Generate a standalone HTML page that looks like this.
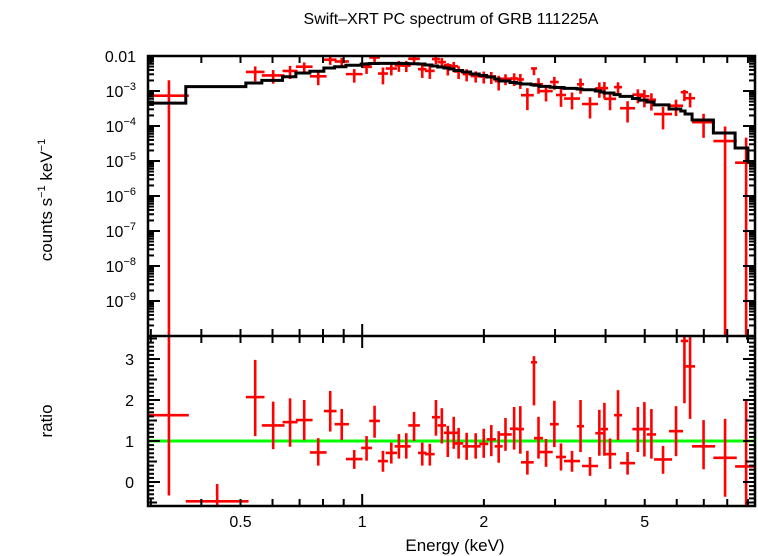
<!DOCTYPE html>
<html><head><meta charset="utf-8">
<style>
html,body{margin:0;padding:0;background:#fff;}
svg{display:block;font-family:"Liberation Sans",sans-serif;}
</style></head>
<body>
<svg id="chart" width="758" height="556" viewBox="0 0 758 556" xmlns="http://www.w3.org/2000/svg">
<rect x="0" y="0" width="758" height="556" fill="#fff"/>
<text x="451" y="24" font-size="16" text-anchor="middle">Swift–XRT PC spectrum of GRB 111225A</text>
<g id="plots"></g>
<text x="455" y="551" font-size="17" text-anchor="middle">Energy (keV)</text>
<text transform="translate(52,200) rotate(-90)" font-size="17" text-anchor="middle">counts s<tspan font-size="11" dy="-7">−1</tspan><tspan dy="7"> keV</tspan><tspan font-size="11" dy="-7">−1</tspan></text>
<text transform="translate(52,421) rotate(-90)" font-size="17" text-anchor="middle">ratio</text>
</svg>
<script>
// ---- data ----
const eLo=[0.297,0.3661,0.5155,0.5646,0.6353,0.6853,0.7423,0.8039,0.8545,0.9114,0.9943,1.041,1.094,1.143,1.203,1.254,1.300,1.374,1.430,1.488,1.537,1.593,1.642,1.687,1.772,1.855,1.948,2.032,2.127,2.183,2.321,2.411,2.471,2.616,2.661,2.743,2.915,3.016,3.157,3.400,3.498,3.773,3.892,3.966,4.198,4.345,4.660,4.850,5.058,5.272,5.742,6.139,6.292,6.547,7.392,8.366];
const eHi=[0.3724,0.5234,0.5733,0.6425,0.6920,0.7538,0.8165,0.8641,0.9270,1.002,1.057,1.106,1.158,1.219,1.263,1.318,1.389,1.443,1.511,1.557,1.612,1.665,1.728,1.778,1.855,1.964,2.050,2.142,2.226,2.344,2.433,2.513,2.657,2.706,2.801,2.960,3.063,3.193,3.458,3.538,3.832,3.950,4.057,4.246,4.393,4.732,4.961,5.134,5.333,5.842,6.220,6.400,6.660,7.464,8.447,9.485];
const ratio=[1.63,-0.47,2.07,1.38,1.46,1.51,0.72,1.73,1.41,0.56,0.83,1.49,0.51,0.71,0.87,0.87,1.38,0.71,0.68,1.58,1.38,1.2,1.2,0.94,0.87,0.87,0.93,1.04,0.87,1.16,1.3,1.29,0.48,2.92,1.07,0.73,1.41,0.61,0.51,1.36,0.39,1.19,1.29,0.68,1.63,0.46,1.29,1.29,1.16,0.55,1.24,3.44,2.82,0.87,0.59,0.38];
const ratioHi=[4.5,-0.05,2.98,1.96,2.04,2.0,1.07,2.22,1.78,0.78,1.12,1.86,0.76,0.96,1.17,1.19,1.71,0.96,0.93,2.0,1.8,1.37,1.59,1.32,1.2,1.19,1.3,1.39,1.24,1.56,1.83,1.85,0.76,3.07,1.59,1.05,1.98,0.94,0.76,2.0,0.61,1.76,1.93,1.06,2.24,0.73,1.83,1.95,1.78,0.88,1.85,4.0,4.0,1.51,1.54,1.98];
const ratioLo=[-0.33,-0.6,1.12,0.8,0.86,1.02,0.4,1.23,1.02,0.32,0.52,1.08,0.25,0.45,0.57,0.57,1.0,0.4,0.4,1.13,0.94,0.61,0.81,0.57,0.54,0.57,0.59,0.63,0.47,0.76,0.79,0.69,0.18,1.87,0.57,0.37,0.85,0.28,0.25,0.73,0.15,0.64,0.64,0.32,1.02,0.18,0.73,0.62,0.57,0.2,0.63,1.92,1.54,0.31,-0.36,-0.6];
const model=[4.5e-4,1.33e-3,1.69e-3,2.02e-3,2.56e-3,3.27e-3,3.66e-3,4.54e-3,4.94e-3,5.42e-3,5.91e-3,6.1e-3,6.18e-3,6.18e-3,6.18e-3,6.1e-3,6.03e-3,5.91e-3,5.53e-3,5.18e-3,4.85e-3,4.54e-3,4.25e-3,3.85e-3,3.49e-3,3.06e-3,2.77e-3,2.51e-3,2.2e-3,1.93e-3,1.75e-3,1.66e-3,1.58e-3,1.51e-3,1.46e-3,1.36e-3,1.28e-3,1.26e-3,1.19e-3,1.14e-3,1.09e-3,1.0e-3,9.4e-4,8.8e-4,7.9e-4,7.0e-4,6.1e-4,5.5e-4,4.85e-4,4.0e-4,3.06e-4,2.68e-4,2.2e-4,1.48e-4,6.3e-5,2.35e-5];
const modelTail=[9.0,9.4,9.3e-6]; // extra model bin: eLo, eHi, value
const yTopTicks=["0.01","10|−3","10|−4","10|−5","10|−6","10|−7","10|−8","10|−9"];
const xTickVals=[0.5,1,2,5];
const ratioTicks=[0,1,2,3];

// ---- geometry ----
const X0=148,X1=755,TOP0=56,TOP1=336,BOT0=336,BOT1=506;
const E1=0.2952, E2=9.37;
function xs(e){return X0+(Math.log10(e)-Math.log10(E1))/(Math.log10(E2)-Math.log10(E1))*(X1-X0);}
function ysTop(v){return TOP0+(-2-Math.log10(v))*35;}
function ysBot(r){return 482-r*41;}
const NS="http://www.w3.org/2000/svg";
const g=document.getElementById('plots');
function el(tag,attrs,parent){const e=document.createElementNS(NS,tag);for(const k in attrs)e.setAttribute(k,attrs[k]);(parent||g).appendChild(e);return e;}
function clampT(y){return Math.max(TOP0,Math.min(TOP1,y));}
function clampB(y){return Math.max(BOT0,Math.min(BOT1,y));}
function clampX(x){return Math.max(X0,Math.min(X1,x));}

// clip paths
const defs=el('defs',{});
const cp1=el('clipPath',{id:'clipTop'},defs);el('rect',{x:X0,y:TOP0,width:X1-X0,height:TOP1-TOP0},cp1);
const cp2=el('clipPath',{id:'clipBot'},defs);el('rect',{x:X0,y:BOT0,width:X1-X0,height:BOT1-BOT0},cp2);

// ---- top panel: data ----
const gTopData=el('g',{'clip-path':'url(#clipTop)'});


for(let i=0;i<eLo.length;i++){
  const m=model[i],r=ratio[i];
  if(r<=0) continue;
  const cx=xs(Math.sqrt(eLo[i]*eHi[i])), y=ysTop(m*r);
  const yHi=ysTop(m*ratioHi[i]);
  const yLo=ratioLo[i]>0?ysTop(m*ratioLo[i]):TOP1+5;
  const grp=el('g',{},gTopData);
  
  
  el('line',{x1:xs(eLo[i]),x2:xs(eHi[i]),y1:y,y2:y,stroke:'#f00','stroke-width':2.6},grp);
  el('line',{x1:cx,x2:cx,y1:yHi,y2:yLo,stroke:'#f00','stroke-width':2.6},grp);
}
// model step
let d='';
for(let i=0;i<eLo.length;i++){
  const xa=clampX(xs(eLo[i])), xb=xs(eHi[i]), y=ysTop(model[i]);
  if(i==0) d+='M'+X0+' '+y; else d+='L'+xa+' '+y;
  const nx=i<eLo.length-1?xs(eLo[i+1]):xs(modelTail[0]);
  d+='L'+nx+' '+y;
}
d+='L'+xs(modelTail[0])+' '+ysTop(modelTail[2])+'L'+X1+' '+ysTop(modelTail[2]);
const mp=el('path',{d:d,fill:'none',stroke:'#000','stroke-width':3,'clip-path':'url(#clipTop)'});



// ---- bottom panel ----
const gl=el('line',{x1:X0,x2:X1,y1:ysBot(1),y2:ysBot(1),stroke:'#0f0','stroke-width':3});


const gBot=el('g',{'clip-path':'url(#clipBot)'});


for(let i=0;i<eLo.length;i++){
  const cx=xs(Math.sqrt(eLo[i]*eHi[i])), y=ysBot(ratio[i]);
  const grp=el('g',{},gBot);
  
  
  el('line',{x1:xs(eLo[i]),x2:xs(eHi[i]),y1:y,y2:y,stroke:'#f00','stroke-width':2.6},grp);
  el('line',{x1:cx,x2:cx,y1:ysBot(ratioHi[i]),y2:ysBot(ratioLo[i]),stroke:'#f00','stroke-width':2.6},grp);
}

// ---- frames & ticks ----
const axG=el('g',{});


function ln(x1,y1,x2,y2,w){el('line',{x1:x1,y1:y1,x2:x2,y2:y2,stroke:'#000','stroke-width':w||2},axG);}
el('rect',{x:X0,y:TOP0,width:X1-X0,height:BOT1-TOP0,fill:'none',stroke:'#000','stroke-width':2.5},axG);
ln(X0,BOT0,X1,BOT0,2.5);
// x ticks (minor 0.3..0.9,1..9)
const minors=[];
for(let dec of [0.1,1]) for(let k=1;k<10;k++){const v=k*dec;if(v>=E1&&v<=E2)minors.push(v);}
for(const v of minors){
  const x=xs(v), L=(v===1)?12:7;
  for(const [yb,dir] of [[TOP0,1],[BOT0,-1],[BOT0,1],[BOT1,-1]]) ln(x,yb,x,yb+dir*L,2);
}
// top y ticks
for(let p=-10;p<=-2;p++){
  for(let k=1;k<10;k++){
    const v=k*Math.pow(10,p); if(v>0.0100001||v<1e-10) continue;
    const y=ysTop(v), L=(k===1)?12:6;
    ln(X0,y,X0+L,y,2); ln(X1,y,X1-L,y,2);
  }
}
// bottom y ticks
for(let r=-0.5;r<=3.5001;r+=0.1){
  const rr=Math.round(r*10)/10;const y=ysBot(rr); if(y<BOT0||y>BOT1) continue;
  const L=(Math.abs(rr-Math.round(rr))<1e-6)?12:(Math.abs(rr*2-Math.round(rr*2))<1e-6?9:6);
  ln(X0,y,X0+L,y,2); ln(X1,y,X1-L,y,2);
}
// labels
yTopTicks.forEach((t,i)=>{
  const y=TOP0+i*35;
  const tx=el('text',{x:136,y:y+6,'font-size':16,'text-anchor':'end'});
  
  
  const parts=t.split('|');
  if(parts.length===1) tx.textContent=parts[0];
  else{tx.appendChild(document.createTextNode(parts[0]));const s=document.createElementNS(NS,'tspan');s.setAttribute('font-size','11');s.setAttribute('dy','-7');s.textContent=parts[1];tx.appendChild(s);}
});
ratioTicks.forEach(r=>{
  const tx=el('text',{x:134,y:ysBot(r)+6,'font-size':16,'text-anchor':'end'});
  
  
  tx.textContent=String(r);
});
xTickVals.forEach(v=>{
  const tx=el('text',{x:xs(v),y:527,'font-size':16,'text-anchor':'middle'});
  
  
  tx.textContent=String(v);
});
</script>
</body></html>
